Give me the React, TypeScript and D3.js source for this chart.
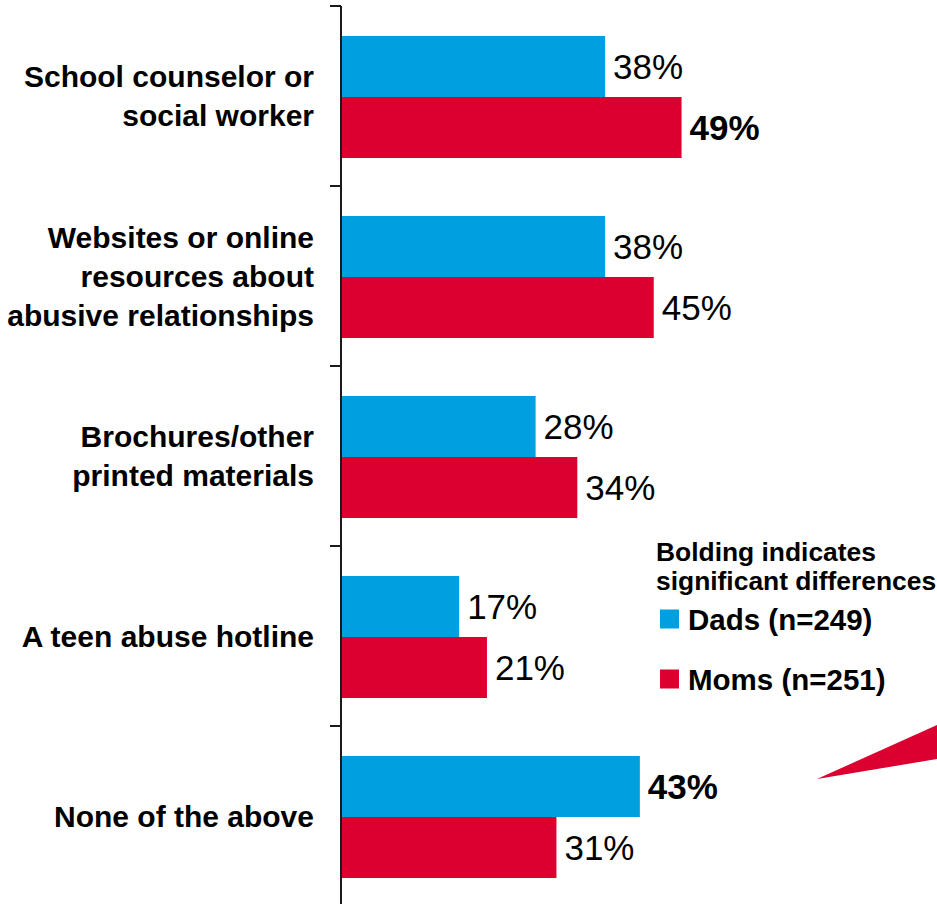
import { useEffect, useRef } from 'react'
import * as d3 from 'd3'

// categories (top to bottom), each label split in lines
const categories = [
  'School counselor or\nsocial worker',
  'Websites or online\nresources about\nabusive relationships',
  'Brochures/other\nprinted materials',
  'A teen abuse hotline',
  'None of the above',
]
const dads = [38, 38, 28, 17, 43]
const moms = [49, 45, 34, 21, 31]
// which values are bolded (significant)
const dadsBold = [false, false, false, false, true]
const momsBold = [true, false, false, false, false]

const seriesNames = ['Dads (n=249)', 'Moms (n=251)']
const colors = ['#009FE0', '#DC0030']

export default function App() {
  const svgRef = useRef<SVGSVGElement>(null)

  useEffect(() => {
    if (!svgRef.current) return
    const svg = d3.select(svgRef.current)
    svg.selectAll('*').remove()

    const width = 937
    const height = 904
    const axisX = 341
    const font = 'Arial, "Liberation Sans", sans-serif'

    const x = d3.scaleLinear().domain([0, 100]).range([axisX, axisX + 695])
    const y = d3.scaleBand().domain(categories).range([6, 906]).paddingInner(0)
    const barH = 61
    const barTop = 30

    const rows = categories.map((c, i) => ({
      cat: c,
      vals: [
        { v: dads[i], bold: dadsBold[i], s: 0 },
        { v: moms[i], bold: momsBold[i], s: 1 },
      ],
    }))

    // bars
    const g = svg.append('g')
    const row = g.selectAll('g.row').data(rows).enter().append('g')
      .attr('transform', d => `translate(0,${y(d.cat)! + barTop})`)

    row.selectAll('rect').data(d => d.vals).enter().append('rect')
      .attr('x', x(0))
      .attr('y', d => d.s * barH)
      .attr('width', d => x(d.v) - x(0))
      .attr('height', barH)
      .attr('fill', d => colors[d.s])

    row.selectAll('text.val').data(d => d.vals).enter().append('text')
      .attr('class', 'val')
      .attr('x', d => x(d.v) + 8)
      .attr('y', d => d.s * barH + barH / 2)
      .attr('dy', '0.36em')
      .style('font-family', font)
      .style('font-size', '35px')
      .style('font-weight', d => (d.bold ? 'bold' : 'normal'))
      .style('fill', '#000')
      .text(d => `${d.v}%`)

    // axis
    const axis = svg.append('g').attr('transform', `translate(${axisX},0)`)
      .call(d3.axisLeft(y).tickSize(0).tickFormat(() => ''))
    axis.select('.domain').remove()
    axis.append('line').attr('x1', 0).attr('x2', 0).attr('y1', 6).attr('y2', 906)
      .attr('stroke', '#1a1a1a').attr('stroke-width', 2)
    axis.selectAll('line.tk').data(d3.range(categories.length + 1)).enter().append('line')
      .attr('class', 'tk')
      .attr('x1', -11).attr('x2', 0)
      .attr('y1', i => 6 + i * y.step()).attr('y2', i => 6 + i * y.step())
      .attr('stroke', '#1a1a1a').attr('stroke-width', 2)

    // category labels
    const lineH = 39
    categories.forEach(c => {
      const lines = c.split('\n')
      const cy = y(c)! + y.bandwidth() / 2
      const t = svg.append('text')
        .attr('text-anchor', 'end')
        .style('font-family', font)
        .style('font-size', '30px')
        .style('font-weight', 'bold')
        .style('fill', '#000')
      lines.forEach((ln, j) => {
        t.append('tspan')
          .attr('x', 314)
          .attr('y', cy + (j - (lines.length - 1) / 2) * lineH)
          .attr('dy', '0.36em')
          .text(ln)
      })
    })

    // legend
    const lg = svg.append('g')
    lg.append('text').attr('x', 656).attr('y', 551).attr('dy', '0.36em')
      .style('font-family', font).style('font-size', '26.4px').style('font-weight', 'bold')
      .text('Bolding indicates')
    lg.append('text').attr('x', 656).attr('y', 580).attr('dy', '0.36em')
      .style('font-family', font).style('font-size', '26.4px').style('font-weight', 'bold')
      .text('significant differences')
    seriesNames.forEach((n, i) => {
      const ly = 619 + i * 60
      lg.append('rect').attr('x', 660).attr('y', ly - 9.5).attr('width', 19).attr('height', 19)
        .attr('fill', colors[i])
      lg.append('text').attr('x', 688).attr('y', ly).attr('dy', '0.36em')
        .style('font-family', font).style('font-size', '29.5px').style('font-weight', 'bold')
        .text(n)
    })

    // red decorative wedge at right edge
    svg.append('polygon')
      .attr('points', '817,779 937,725 937,759')
      .attr('fill', colors[1])

    svg.attr('width', width).attr('height', height)
  }, [])

  return (
    <div style={{ position: 'absolute', left: 0, top: 0 }}>
      <svg ref={svgRef} style={{ display: 'block', background: '#fff' }}></svg>
    </div>
  )
}
